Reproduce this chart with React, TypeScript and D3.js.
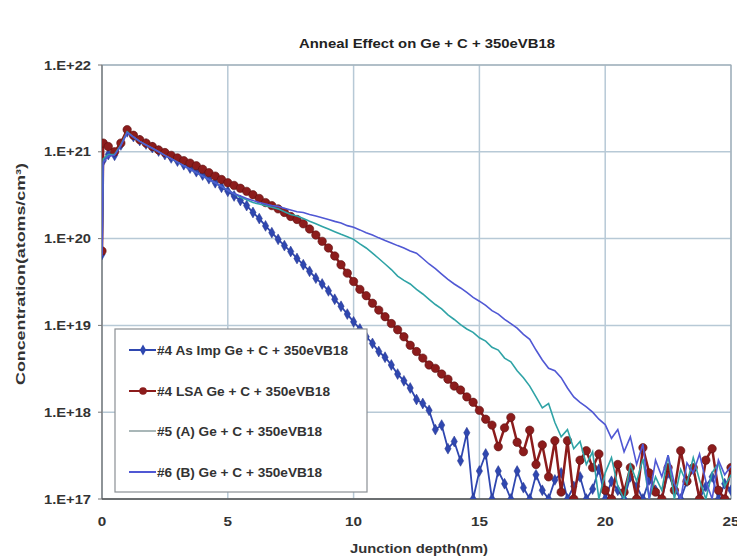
import React from "react";
import * as d3 from "d3";

const title = "Anneal Effect on Ge + C + 350eVB18";
const xAxisTitle = "Junction depth(nm)";
const yAxisTitle = "Concentration(atoms/cm³)";

const xTicks = [0, 5, 10, 15, 20, 25];
const yTicks = [1e17, 1e18, 1e19, 1e20, 1e21, 1e22];
const yTickLabels = ["1.E+17", "1.E+18", "1.E+19", "1.E+20", "1.E+21", "1.E+22"];

const seriesNames = [
  "#4 As Imp Ge + C + 350eVB18",
  "#4 LSA Ge + C + 350eVB18",
  "#5 (A) Ge + C + 350eVB18",
  "#6 (B) Ge + C + 350eVB18",
];

// depth (nm)
const depth = [
  0, 0.05, 0.25, 0.5, 0.75,
  1, 1.25, 1.5, 1.75, 2, 2.25, 2.5, 2.75, 3, 3.25, 3.5, 3.75,
  4, 4.25, 4.5, 4.75, 5, 5.25, 5.5, 5.75, 6, 6.25, 6.5, 6.75,
  7, 7.25, 7.5, 7.75, 8, 8.25, 8.5, 8.75, 9, 9.25, 9.5, 9.75,
  10, 10.25, 10.5, 10.75, 11, 11.25, 11.5, 11.75, 12, 12.25, 12.5, 12.75,
  13, 13.25, 13.5, 13.75, 14, 14.25, 14.5, 14.75, 15, 15.25, 15.5, 15.75,
  16, 16.25, 16.5, 16.75, 17, 17.25, 17.5, 17.75, 18, 18.25, 18.5, 18.75,
  19, 19.25, 19.5, 19.75, 20, 20.25, 20.5, 20.75, 21, 21.25, 21.5, 21.75,
  22, 22.25, 22.5, 22.75, 23, 23.25, 23.5, 23.75, 24, 24.25, 24.5, 24.75,
  25,
];

// concentration (atoms/cm3); 0 = below detection
const asImp = [
  6.6e19, 7.9e20, 9.3e20, 9.1e20, 1.2e21,
  1.7e21, 1.5e21, 1.35e21, 1.23e21,
  1.12e21, 1.02e21, 9.3e20, 8.5e20,
  7.8e20, 7.1e20, 6.5e20, 5.9e20,
  5.4e20, 4.9e20, 4.4e20, 3.9e20,
  3.5e20, 3.1e20, 2.75e20, 2.4e20,
  2.0e20, 1.7e20, 1.4e20, 1.17e20,
  9.8e19, 8.3e19, 7.1e19, 5.9e19,
  5.0e19, 4.2e19, 3.5e19, 3.0e19,
  2.5e19, 2.0e19, 1.66e19, 1.35e19,
  1.1e19, 9.1e18, 7.4e18, 6.2e18,
  5.0e18, 4.3e18, 3.5e18, 2.75e18,
  2.3e18, 1.9e18, 1.4e18, 1.26e18,
  1.05e18, 6.3e17, 7.1e17, 3.8e17,
  4.6e17, 2.75e17, 5.8e17, 0,
  2.1e17, 3.3e17, 0, 2.1e17,
  1.5e17, 0, 2.1e17, 1.35e17,
  0, 1.9e17, 1.26e17, 0,
  1.66e17, 2.0e17, 0, 1.4e17,
  1.8e17, 0, 1.3e17, 2.2e17,
  0, 1.6e17, 1.26e17, 0,
  1.8e17, 1.4e17, 0, 1.66e17,
  1.26e17, 0, 2.0e17, 1.3e17,
  0, 1.6e17, 2.2e17, 0,
  1.4e17, 1.8e17, 0, 1.5e17,
  1.26e17,
];

const lsa = [
  7.2e19, 1.26e21, 1.15e21, 1.0e21, 1.26e21,
  1.8e21, 1.55e21, 1.38e21, 1.26e21,
  1.15e21, 1.05e21, 9.8e20, 9.1e20,
  8.5e20, 7.9e20, 7.4e20, 6.9e20,
  6.3e20, 5.75e20, 5.25e20, 4.8e20,
  4.4e20, 4.1e20, 3.8e20, 3.5e20,
  3.2e20, 2.9e20, 2.6e20, 2.4e20,
  2.2e20, 2.0e20, 1.8e20, 1.66e20,
  1.48e20, 1.29e20, 1.1e20, 9.3e19,
  7.8e19, 6.3e19, 5.0e19, 4.0e19,
  3.2e19, 2.6e19, 2.2e19, 1.8e19,
  1.5e19, 1.26e19, 1.05e19, 8.9e18,
  7.4e18, 5.9e18, 5.0e18, 4.2e18,
  3.5e18, 3.2e18, 2.75e18, 2.4e18,
  2.0e18, 1.8e18, 1.5e18, 1.3e18,
  1.05e18, 8.3e17, 7.1e17, 4.0e17,
  6.6e17, 8.7e17, 4.5e17, 3.5e17,
  6.2e17, 2.5e17, 4.2e17, 1.8e17,
  4.7e17, 1.2e17, 4.7e17, 0,
  2.8e17, 3.6e17, 2.3e17, 3.3e17,
  1.26e17, 0, 2.5e17, 1.2e17,
  2.3e17, 0, 3.9e17, 2.0e17,
  1.2e17, 0, 2.3e17, 1.26e17,
  3.6e17, 1.6e17, 2.3e17, 0,
  2.8e17, 3.8e17, 1.26e17, 0,
  2.3e17,
];

const annealA = [
  6.6e19, 8.3e20, 9.3e20, 9.3e20, 1.2e21,
  1.7e21, 1.48e21, 1.32e21, 1.2e21,
  1.1e21, 1.0e21, 9.1e20, 8.3e20,
  7.6e20, 6.9e20, 6.3e20, 5.75e20,
  5.25e20, 4.8e20, 4.4e20, 4.0e20,
  3.6e20, 3.3e20, 3.0e20, 2.8e20,
  2.6e20, 2.5e20, 2.4e20, 2.3e20,
  2.2e20, 2.04e20, 1.9e20, 1.82e20,
  1.7e20, 1.58e20, 1.48e20, 1.38e20,
  1.29e20, 1.2e20, 1.12e20, 1.05e20,
  9.8e19, 8.7e19, 7.8e19, 6.8e19,
  5.9e19, 5.1e19, 4.4e19, 3.7e19,
  3.3e19, 3.0e19, 2.6e19, 2.3e19,
  2.0e19, 1.74e19, 1.55e19, 1.32e19,
  1.17e19, 1.02e19, 9.1e18, 8.3e18,
  7.2e18, 6.6e18, 5.6e18, 5.2e18,
  4.2e18, 3.8e18, 3.0e18, 2.5e18,
  2.0e18, 1.5e18, 1.12e18, 1.26e18,
  7.6e17, 5.2e17, 6.3e17, 3.8e17,
  4.6e17, 2.5e17, 3.5e17, 0,
  2.0e17, 3.0e17, 1.4e17, 0,
  2.5e17, 1.6e17, 2.9e17, 0,
  1.8e17, 1.26e17, 3.2e17, 0,
  2.2e17, 1.5e17, 3.0e17, 1.66e17,
  0, 2.0e17, 2.6e17, 1.4e17,
  1.9e17,
];

const annealB = [
  6.3e19, 7.6e20, 8.9e20, 9.1e20, 1.17e21,
  1.66e21, 1.48e21, 1.32e21, 1.2e21,
  1.1e21, 1.0e21, 9.1e20, 8.3e20,
  7.6e20, 6.9e20, 6.3e20, 5.75e20,
  5.25e20, 4.8e20, 4.4e20, 4.0e20,
  3.6e20, 3.3e20, 3.1e20, 2.9e20,
  2.75e20, 2.6e20, 2.5e20, 2.4e20,
  2.35e20, 2.24e20, 2.14e20, 2.04e20,
  2.0e20, 1.9e20, 1.82e20, 1.74e20,
  1.66e20, 1.58e20, 1.51e20, 1.41e20,
  1.35e20, 1.26e20, 1.17e20, 1.1e20,
  1.02e20, 9.5e19, 8.9e19, 8.3e19,
  7.8e19, 7.2e19, 6.8e19, 5.9e19,
  5.1e19, 4.5e19, 3.9e19, 3.4e19,
  3.0e19, 2.7e19, 2.4e19, 2.1e19,
  1.9e19, 1.7e19, 1.48e19, 1.35e19,
  1.17e19, 1.05e19, 9.3e18, 7.9e18,
  6.9e18, 5.2e18, 4.0e18, 3.2e18,
  3.0e18, 2.5e18, 1.9e18, 1.5e18,
  1.3e18, 1.15e18, 1.0e18, 8.3e17,
  7.2e17, 5.0e17, 6.3e17, 3.5e17,
  5.2e17, 2.5e17, 4.3e17, 0,
  2.8e17, 1.8e17, 3.2e17, 1.5e17,
  0, 2.6e17, 2.0e17, 3.3e17,
  1.6e17, 0, 2.8e17, 1.9e17,
  2.4e17,
];

const W = 737;
const H = 559;
const plot = { left: 102, right: 731, top: 65, bottom: 499 };
const FONT = "'Liberation Sans', Arial, sans-serif";

const colors = {
  asImp: "#2f47b0",
  lsa: "#8c1c1c",
  annealA: "#2fa3a6",
  annealB: "#5058d4",
};

export default function App() {
  const x = d3.scaleLinear().domain([0, 25]).range([plot.left, plot.right]);
  const y = d3.scaleLog().domain([1e17, 1e22]).range([plot.bottom, plot.top]);
  const yc = (v: number) => (v > 1e17 ? y(v) : y(1e17));

  const line = d3
    .line<number>()
    .x((_, i) => x(depth[i]))
    .y((d) => yc(d));

  const n = depth.length;
  const pts = (arr: number[]) => arr.slice(0, n).map((v, i) => [x(depth[i]), yc(v)] as [number, number]);

  const diamond = d3.symbol().type(d3.symbolDiamond).size(34)() as string;

  const legendEntries = [
    { name: seriesNames[0], color: colors.asImp, marker: "diamond", len: 191 },
    { name: seriesNames[1], color: colors.lsa, marker: "circle", len: 173 },
    { name: seriesNames[2], color: "#a9b7b8", marker: "none", len: 165 },
    { name: seriesNames[3], color: colors.annealB, marker: "none", len: 165 },
  ];
  const legendY = [350, 391, 431, 472];

  return (
    <svg
      width={W}
      height={H}
      style={{ position: "absolute", left: 0, top: 0, background: "#fff" }}
      fontFamily={FONT}
    >
      <defs>
        <clipPath id="plotclip">
          <rect x={plot.left} y={plot.top - 2} width={plot.right - plot.left} height={plot.bottom - plot.top + 2} />
        </clipPath>
      </defs>
      <rect x={0} y={0} width={W} height={H} fill="#fff" />

      {/* title */}
      <text
        x={427}
        y={48}
        textAnchor="middle"
        fontSize={12.5}
        fontWeight="bold"
        fill="#222"
        textLength={256}
        lengthAdjust="spacingAndGlyphs"
      >
        {title}
      </text>

      {/* grid */}
      {xTicks.map((t) => (
        <line key={"gx" + t} x1={x(t)} x2={x(t)} y1={plot.top} y2={plot.bottom} stroke="#b7c9d6" strokeWidth={1.5} />
      ))}
      {yTicks.map((t) => (
        <line key={"gy" + t} x1={plot.left} x2={plot.right} y1={y(t)} y2={y(t)} stroke="#b7c9d6" strokeWidth={1.5} />
      ))}
      <rect
        x={plot.left}
        y={plot.top}
        width={plot.right - plot.left}
        height={plot.bottom - plot.top}
        fill="none"
        stroke="#9aa7b0"
        strokeWidth={1}
      />
      <line x1={plot.left} x2={plot.left} y1={plot.top} y2={plot.bottom} stroke="#777" strokeWidth={1.2} />
      <line x1={plot.left} x2={plot.right} y1={plot.bottom} y2={plot.bottom} stroke="#555" strokeWidth={1.5} />

      {/* y ticks */}
      {yTicks.map((t, i) => (
        <g key={"yt" + t}>
          <line x1={plot.left - 4} x2={plot.left} y1={y(t)} y2={y(t)} stroke="#777" />
          <text
            x={91}
            y={y(t) + 4.5}
            textAnchor="end"
            fontSize={12.5}
            fontWeight="bold"
            fill="#333"
            textLength={47}
            lengthAdjust="spacingAndGlyphs"
          >
            {yTickLabels[i]}
          </text>
        </g>
      ))}
      {/* x ticks */}
      {xTicks.map((t) => (
        <text
          key={"xt" + t}
          x={x(t)}
          y={526}
          textAnchor="middle"
          fontSize={12}
          fontWeight="bold"
          fill="#333"
          textLength={String(t).length * 8.5}
          lengthAdjust="spacingAndGlyphs"
        >
          {t}
        </text>
      ))}

      <text
        x={419}
        y={553}
        textAnchor="middle"
        fontSize={12.5}
        fontWeight="bold"
        fill="#333"
        textLength={138}
        lengthAdjust="spacingAndGlyphs"
      >
        {xAxisTitle}
      </text>
      <text
        transform={`translate(25,${274}) rotate(-90)`}
        textAnchor="middle"
        fontSize={12.5}
        fontWeight="bold"
        fill="#333"
        textLength={222}
        lengthAdjust="spacingAndGlyphs"
      >
        {yAxisTitle}
      </text>

      {/* series */}
      <g clipPath="url(#plotclip)">
        <path d={line(asImp.slice(0, n)) || ""} fill="none" stroke={colors.asImp} strokeWidth={1.8} />
        {pts(asImp).map(([px, py], i) => (
          <path key={"am" + i} d={diamond} transform={`translate(${px},${py})`} fill={colors.asImp} stroke="#26358a" strokeWidth={0.5} />
        ))}
        <path d={line(lsa.slice(0, n)) || ""} fill="none" stroke={colors.lsa} strokeWidth={2.5} />
        {pts(lsa).map(([px, py], i) => (
          <circle key={"lm" + i} cx={px} cy={py} r={4.2} fill={colors.lsa} stroke="#5e1010" strokeWidth={0.6} />
        ))}
        <path d={line(annealA.slice(0, n)) || ""} fill="none" stroke={colors.annealA} strokeWidth={1.6} />
        <path d={line(annealB.slice(0, n)) || ""} fill="none" stroke={colors.annealB} strokeWidth={1.6} />
      </g>

      {/* legend */}
      <rect x={115} y={329} width={252} height={163} fill="#fff" stroke="#8a8f94" strokeWidth={1.2} />
      {legendEntries.map((e, i) => (
        <g key={"lg" + i}>
          <line x1={129} x2={156} y1={legendY[i]} y2={legendY[i]} stroke={e.color} strokeWidth={2} />
          {e.marker === "diamond" && (
            <path d={diamond} transform={`translate(143,${legendY[i]})`} fill={e.color} />
          )}
          {e.marker === "circle" && <circle cx={143} cy={legendY[i]} r={3.8} fill={e.color} />}
          <text
            x={157}
            y={legendY[i] + 4.5}
            fontSize={12}
            fontWeight="bold"
            fill="#333"
            textLength={e.len}
            lengthAdjust="spacingAndGlyphs"
          >
            {e.name}
          </text>
        </g>
      ))}
    </svg>
  );
}
